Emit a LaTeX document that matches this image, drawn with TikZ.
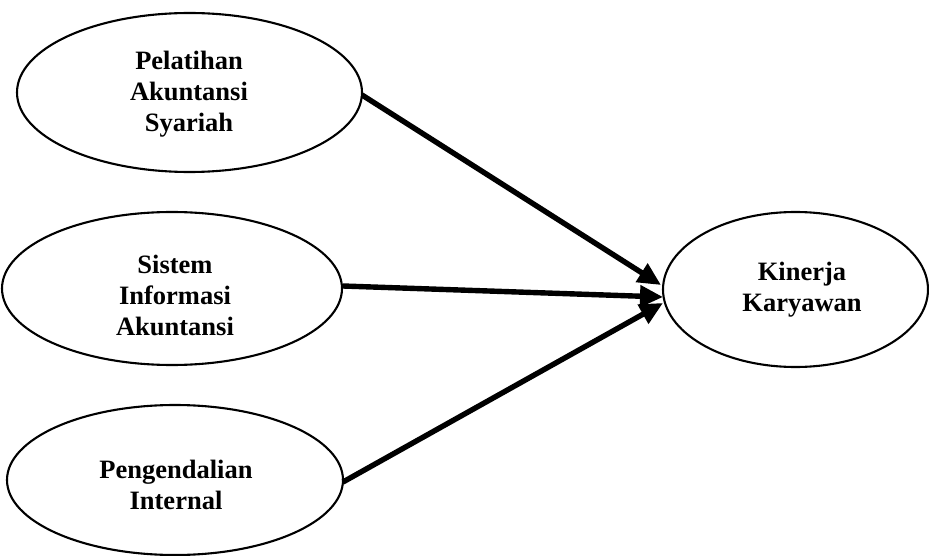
\documentclass[tikz,border=0pt]{standalone}
\usepackage{fontspec}
\setmainfont{Liberation Serif}
\usetikzlibrary{shapes.geometric,arrows.meta}
\begin{document}
\begin{tikzpicture}[x=1pt,y=-1pt,
  oval/.style={draw=black,line width=2.1pt,ellipse,inner sep=0pt},
  lbl/.style={align=center,font=\fontsize{26.5}{31}\selectfont\bfseries,inner sep=0pt},
  conn/.style={line width=5.4pt,-{Triangle[length=23pt,width=21pt]}}]
\useasboundingbox (0,0) rectangle (929,556);
\node[oval,minimum width=345pt,minimum height=159pt] (e1) at (189.5,92.5) {};
\node[oval,minimum width=340pt,minimum height=153pt] (e2) at (172,288.5) {};
\node[oval,minimum width=336pt,minimum height=150pt] (e3) at (175,480) {};
\node[oval,minimum width=265pt,minimum height=155pt] (e4) at (795.5,289.5) {};
\node[lbl] (t1) at (189,94) {Pelatihan\\Akuntansi\\Syariah};
\node[lbl] (t2) at (175,295) {Sistem\\Informasi\\Akuntansi};
\node[lbl] (t3) at (176,485) {Pengendalian\\Internal};
\node[lbl] (t4) at (802,290) {Kinerja\\Karyawan};
\coordinate (s1) at (362,95);
\coordinate (s2) at (343,286);
\coordinate (s3) at (343,482);
\coordinate (p1) at (661,285);
\coordinate (p2) at (663,297);
\coordinate (p3) at (663,303);
\draw[conn] (s1) -- (p1);
\draw[conn] (s2) -- (p2);
\draw[conn] (s3) -- (p3);
\end{tikzpicture}
\end{document}
